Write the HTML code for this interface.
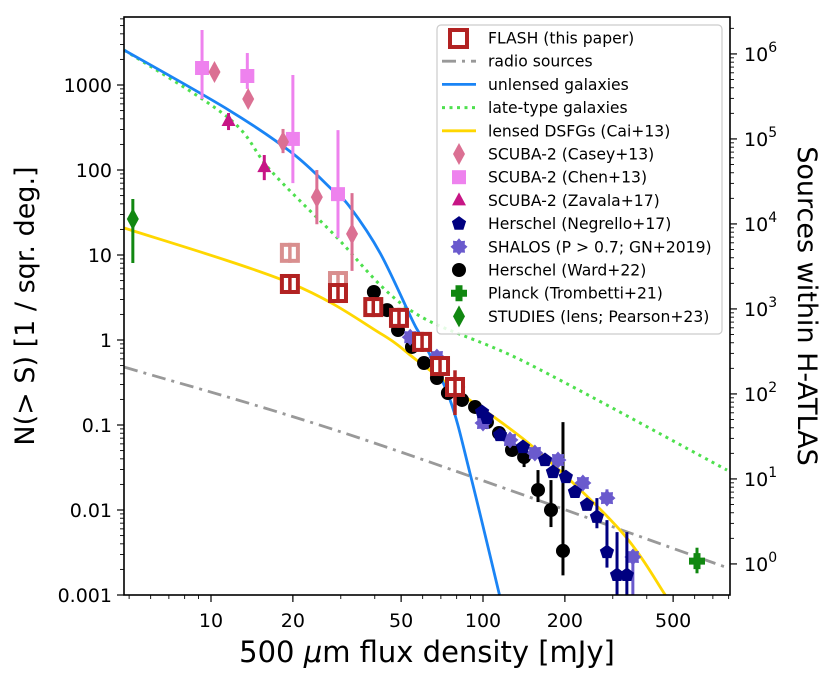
<!DOCTYPE html>
<html><head><meta charset="utf-8"><style>
body{margin:0;background:#fff}
svg{display:block;font-family:"DejaVu Sans","Liberation Sans",sans-serif}
</style></head><body>
<svg id="chart" width="830" height="680" viewBox="0 0 830 680" xmlns="http://www.w3.org/2000/svg">
<defs><clipPath id="plotclip"><rect x="124" y="17" width="606" height="578"/></clipPath></defs>
<g id="axes"></g>
<g id="series" clip-path="url(#plotclip)"></g>
<rect x="124" y="17" width="606" height="578" fill="none" stroke="#000" stroke-width="1.6"/>
<text x="34" y="306" font-size="27" text-anchor="middle" transform="rotate(-90 34 306)">N(&gt; S) [1 / sqr. deg.]</text>
<text x="798" y="306" font-size="27" text-anchor="middle" transform="rotate(90 798 306)">Sources within H-ATLAS</text>
<text x="427" y="662" font-size="29" text-anchor="middle">500 <tspan font-style="italic">μ</tspan>m flux density [mJy]</text>
<g id="legend"></g>
</svg>
<script>
// ---------- data ----------
const unlensedS=[4.8,11.6,19.9,28,32.4,41.9,55,60,75.7,89.6,115];
const unlensedN=[2570,510,158,58,36.7,10.5,1.7,1.0,0.197,0.027,0.001];
const lateS=[4.8,11.6,16.5,28,54,145,789];
const lateN=[2570,410,100,18.1,2.25,0.537,0.0295];
const lensedS=[4.8,19.5,41.9,57,82,153,319,468];
const lensedN=[20.8,4.7,1.2,0.58,0.24,0.055,0.0058,0.001];
const radioS=[4.8,35.3,789];
const radioN=[0.48,0.070,0.0021];

const caseyS=[10.3,13.7,18.4,24.5,33];
const caseyN=[1422,684,214,48,17.7];
const caseyLo=[1422,684,158,23,6.5];
const caseyHi=[1422,684,304,100,53.5];

const chenS=[9.27,13.6,20,29.3];
const chenN=[1585,1276,232,52];
const chenLo=[684,900,70,15.9];
const chenHi=[4436,2378,1312,295];

const zavalaS=[11.6,15.7];
const zavalaN=[377,108];
const zavalaLo=[295,76];
const zavalaHi=[468,150];

const studiesS=[5.16];
const studiesN=[26.5];
const studiesLo=[8.05];
const studiesHi=[45.6];

const planckS=[612];
const planckN=[0.0025];
const planckLo=[0.0018];
const planckHi=[0.0036];

const flashS=[19.5,29.3,39.5,49.1,59.7,69.5,78.9];
const flashN=[4.56,3.57,2.44,1.82,0.95,0.494,0.28];
const flashLo=[4.56,3.57,2.44,1.82,0.95,0.494,0.131];
const flashHi=[4.56,3.57,2.44,1.82,0.95,0.494,0.44];
const flashAltS=[19.5,29.3];
const flashAltN=[10.6,4.94];

const wardS=[39.7,44.4,48.7,54.8,60.7,67.7,74.3,83.7,93.5,103.4,114.5,127.8,141.6,159.3,177.8,196.8];
const wardN=[3.67,2.25,1.31,0.828,0.536,0.357,0.238,0.197,0.163,0.108,0.0805,0.0508,0.042,0.0172,0.01,0.0033];
const wardLo=[3.67,2.25,1.31,0.828,0.536,0.357,0.238,0.197,0.163,0.108,0.0805,0.0508,0.032,0.0124,0.0063,0.0017];
const wardHi=[3.67,2.25,1.31,0.828,0.536,0.357,0.238,0.197,0.163,0.108,0.0805,0.0508,0.042,0.0295,0.0225,0.108];

const negS=[99.2,103.4,115.5,140.3,169,180.8,201.7,217.8,241,262.3,285.6,311,338];
const negN=[0.142,0.121,0.0762,0.0551,0.0387,0.028,0.0244,0.0163,0.0115,0.0083,0.0032,0.00172,0.00172];
const negLo=[0.142,0.121,0.0762,0.0551,0.0387,0.028,0.0244,0.0163,0.0115,0.0061,0.0021,0.0008,0.0008];
const negHi=[0.142,0.121,0.0762,0.0551,0.0387,0.028,0.0244,0.0163,0.0115,0.0138,0.0076,0.0055,0.0055];

const shalosS=[54,67.7,80.2,100,125.7,155.2,188.7,233,285.6,355.6];
const shalosN=[1.08,0.63,0.28,0.1056,0.0667,0.0469,0.0387,0.0208,0.0138,0.0028];
const shalosLo=[1.08,0.63,0.28,0.1056,0.0667,0.0469,0.0387,0.0208,0.0138,0.0008];
const shalosHi=[1.08,0.63,0.28,0.1056,0.0667,0.0469,0.0387,0.0208,0.0175,0.0028];

const xTicks=[10,20,50,100,200,500];
const xTickLabels=["10","20","50","100","200","500"];
const yTicks=[1000,100,10,1,0.1,0.01,0.001];
const yTickLabels=["1000","100","10","1","0.1","0.01","0.001"];
const rTicks=[0,1,2,3,4,5,6];
const rScale=431; // sources per (1/sq.deg)

// ---------- scales ----------
const X=s=>483+272*(Math.log10(s)-2);
const Y=n=>340-85*Math.log10(n);
const NS="http://www.w3.org/2000/svg";
function mk(tag,attrs,parent){const e=document.createElementNS(NS,tag);for(const k in attrs)e.setAttribute(k,attrs[k]);parent.appendChild(e);return e;}
const axes=document.getElementById('axes'),ser=document.getElementById('series'),leg=document.getElementById('legend');

// x ticks
xTicks.forEach((t,i)=>{
  const x=X(t);
  const l=mk('line',{x1:x,x2:x,y1:595,y2:602,stroke:'#000','stroke-width':1.2},axes);
  
  
  const tx=mk('text',{x:x,y:627,'font-size':19,'text-anchor':'middle'},axes);
  tx.textContent=xTickLabels[i];
  
  
});
for(let d=1;d<=1000;d*=10){for(let m=2;m<10;m++){const v=m*d;const x=X(v);if(x<124||x>730)continue;
  const l=mk('line',{x1:x,x2:x,y1:595,y2:599,stroke:'#000','stroke-width':0.9},axes);
  
  }}
// y ticks
yTicks.forEach((t,i)=>{
  const y=Y(t);
  const l=mk('line',{x1:117,x2:124,y1:y,y2:y,stroke:'#000','stroke-width':1.2},axes);
  
  
  const tx=mk('text',{x:112,y:y+7,'font-size':19,'text-anchor':'end'},axes);
  tx.textContent=yTickLabels[i];
  
  
});
for(let d=0.001;d<10000;d*=10){for(let m=2;m<10;m++){const y=Y(m*d);if(y<17||y>595)continue;
  const l=mk('line',{x1:120,x2:124,y1:y,y2:y,stroke:'#000','stroke-width':0.9},axes);
  
  }}
// right ticks
rTicks.forEach(p=>{
  const y=Y(Math.pow(10,p)/rScale);
  const l=mk('line',{x1:730,x2:737,y1:y,y2:y,stroke:'#000','stroke-width':1.2},axes);
  
  
  const tx=mk('text',{x:744,y:y+7,'font-size':19},axes);
  tx.innerHTML='10<tspan dy="-9" font-size="14">'+p+'</tspan>';
  
  
  for(let m=2;m<10;m++){const yy=Y(m*Math.pow(10,p)/rScale);if(yy<17||yy>595)continue;
    const ml=mk('line',{x1:730,x2:734,y1:yy,y2:yy,stroke:'#000','stroke-width':0.9},axes);
    
    }
});

// ---------- lines (Catmull-Rom smoothing) ----------
function curve(S,N,attrs,name){
  const P=S.map((s,i)=>[X(s),Y(N[i])]);
  let d='M'+P[0][0].toFixed(1)+','+P[0][1].toFixed(1);
  for(let i=0;i<P.length-1;i++){
    const p0=P[i-1]||P[i],p1=P[i],p2=P[i+1],p3=P[i+2]||P[i+1];
    const c1=[p1[0]+(p2[0]-p0[0])/6,p1[1]+(p2[1]-p0[1])/6];
    const c2=[p2[0]-(p3[0]-p1[0])/6,p2[1]-(p3[1]-p1[1])/6];
    d+=' C'+c1.map(v=>v.toFixed(1)).join(',')+' '+c2.map(v=>v.toFixed(1)).join(',')+' '+p2.map(v=>v.toFixed(1)).join(',');
  }
  const p=mk('path',Object.assign({d:d,fill:'none'},attrs),ser);
  
  
}
curve(radioS,radioN,{stroke:'#999','stroke-width':2.8,'stroke-dasharray':'14 6 3 6'},'radio-sources-line');
curve(lateS,lateN,{stroke:'#4ee04e','stroke-width':3,'stroke-dasharray':'3 4.5'},'late-type-line');
curve(lensedS,lensedN,{stroke:'#ffd700','stroke-width':2.8,'stroke-linejoin':'round'},'lensed-dsfg-line');
curve(unlensedS,unlensedN,{stroke:'#1a84f5','stroke-width':2.8,'stroke-linejoin':'round'},'unlensed-line');

// ---------- markers ----------
function shape(kind,x,y,col,parent){
  let e;
  if(kind==='circle') e=mk('circle',{cx:x,cy:y,r:7,fill:col},parent);
  else if(kind==='square') e=mk('rect',{x:x-7,y:y-7,width:14,height:14,fill:col},parent);
  else if(kind==='diamond') e=mk('polygon',{points:`${x},${y-11} ${x+6},${y} ${x},${y+11} ${x-6},${y}`,fill:col},parent);
  else if(kind==='triangle') e=mk('polygon',{points:`${x},${y-8} ${x+7},${y+5} ${x-7},${y+5}`,fill:col},parent);
  else if(kind==='pentagon'){let p=[];for(let k=0;k<5;k++){const a=-Math.PI/2+k*2*Math.PI/5;p.push((x+7.5*Math.cos(a)).toFixed(1)+','+(y+7.5*Math.sin(a)).toFixed(1));}e=mk('polygon',{points:p.join(' '),fill:col},parent);}
  else if(kind==='star8'){let p=[];for(let k=0;k<16;k++){const a=k*Math.PI/8;const r=k%2?6.2:8.5;p.push((x+r*Math.cos(a)).toFixed(1)+','+(y+r*Math.sin(a)).toFixed(1));}e=mk('polygon',{points:p.join(' '),fill:col},parent);}
  else if(kind==='plus') e=mk('path',{d:`M${x-3.5},${y-8}h7v4.5h4.5v7h-4.5v4.5h-7v-4.5h-4.5v-7h4.5z`,fill:col},parent);
  else if(kind==='flash'){e=mk('g',{},parent);mk('rect',{x:x-8,y:y-8,width:16,height:16,fill:'#fff',stroke:col,'stroke-width':4},e);mk('line',{x1:x,x2:x,y1:y-10,y2:y+10,stroke:col,'stroke-width':3.5},e);}
  return e;
}
function scatter(S,N,Lo,Hi,kind,col,name,ew){
  const g=mk('g',{},ser);
  
  
  S.forEach((s,i)=>{
    const x=X(s),y=Y(N[i]);
    if(Lo&&Hi&&(Lo[i]!==N[i]||Hi[i]!==N[i])){
      const eb=mk('line',{x1:x,x2:x,y1:Y(Hi[i]),y2:Y(Lo[i]),stroke:col,'stroke-width':ew||3},g);
      
      
    }
    const m=shape(kind,x,y,col,g);
    
    
  });
}
scatter(studiesS,studiesN,studiesLo,studiesHi,'diamond','#118811','studies',3);
scatter(chenS,chenN,chenLo,chenHi,'square','#ee82ee','chen',3);
scatter(caseyS,caseyN,caseyLo,caseyHi,'diamond','#db7093','casey',3);
scatter(zavalaS,zavalaN,zavalaLo,zavalaHi,'triangle','#c71585','zavala',3);
scatter(flashAltS,flashAltN,null,null,'flash','#d98f8f','flash-alt',3);
scatter(wardS,wardN,wardLo,wardHi,'circle','#000','ward',3);
scatter(shalosS,shalosN,shalosLo,shalosHi,'star8','#6a5acd','shalos',3);
scatter(negS,negN,negLo,negHi,'pentagon','#000080','negrello',3);
scatter(flashS,flashN,flashLo,flashHi,'flash','#b22222','flash',3.5);
scatter(planckS,planckN,planckLo,planckHi,'plus','#118811','planck',3);

// ---------- legend ----------
{
  const bx=mk('rect',{x:437,y:25,width:285,height:309,rx:4,fill:'#fff','fill-opacity':0.85,stroke:'#ccc','stroke-width':1.2},leg);
  
  
  const entries=[
    ['flash','#b22222','FLASH (this paper)'],
    ['line-dashdot','#999','radio sources'],
    ['line-solid','#1a84f5','unlensed galaxies'],
    ['line-dot','#4ee04e','late-type galaxies'],
    ['line-solid','#ffd700','lensed DSFGs (Cai+13)'],
    ['diamond','#db7093','SCUBA-2 (Casey+13)'],
    ['square','#ee82ee','SCUBA-2 (Chen+13)'],
    ['triangle','#c71585','SCUBA-2 (Zavala+17)'],
    ['pentagon','#000080','Herschel (Negrello+17)'],
    ['star8','#6a5acd','SHALOS (P > 0.7; GN+2019)'],
    ['circle','#000','Herschel (Ward+22)'],
    ['plus','#118811','Planck (Trombetti+21)'],
    ['diamond','#118811','STUDIES (lens; Pearson+23)']
  ];
  entries.forEach((en,i)=>{
    const y=38+i*23.2;
    const g=mk('g',{},leg);
    
    
    const k=en[0];
    if(k.startsWith('line')){
      const a={x1:442,x2:476,y1:y,y2:y,stroke:en[1],'stroke-width':k==='line-dot'?3:2.8};
      if(k==='line-dashdot')a['stroke-dasharray']='14 6 3 6';
      if(k==='line-dot')a['stroke-dasharray']='3 4.5';
      mk('line',a,g);
    } else if(k==='flash'){
      mk('rect',{x:450,y:y-8,width:17,height:17,fill:'#fff',stroke:en[1],'stroke-width':4},g);
    } else shape(k,459,y,en[1],g);
    const t=mk('text',{x:488,y:y+5.5,'font-size':15.6},g);
    t.textContent=en[2];
  });
}
</script>
</body></html>
